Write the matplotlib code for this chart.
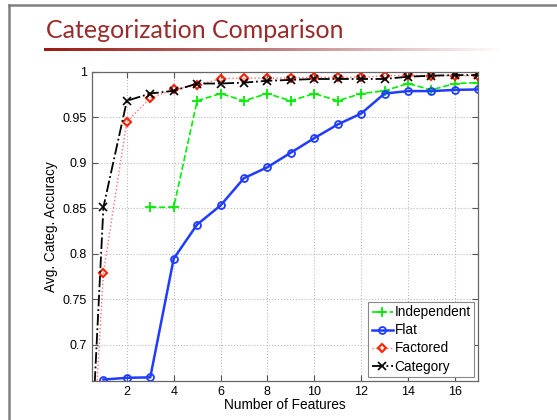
import numpy as np
import matplotlib.pyplot as plt
from matplotlib.colors import LinearSegmentedColormap

# data
n_features = list(range(0, 18))
flat = [np.nan, 0.6616, 0.6635, 0.664, 0.7945, 0.832, 0.853, 0.883, 0.895, 0.911,
        0.927, 0.942, 0.954, 0.976, 0.9787, 0.9787, 0.980, 0.9805]
independent = [np.nan, np.nan, np.nan, 0.851, 0.851, 0.968, 0.976, 0.968, 0.976, 0.968,
               0.976, 0.968, 0.976, 0.979, 0.987, 0.980, 0.987, 0.988]
factored = [0.33, 0.779, 0.945, 0.971, 0.9805, 0.985, 0.9925, 0.9927, 0.993, 0.993,
            0.9938, 0.9938, 0.9938, 0.9956, 0.996, 0.9956, 0.9956, 0.9956]
category = [0.33, 0.851, 0.968, 0.976, 0.979, 0.987, 0.987, 0.988, 0.990, 0.991,
            0.992, 0.992, 0.992, 0.992, 0.9945, 0.9956, 0.9963, 0.9963]

plt.rcParams['font.family'] = ['Liberation Sans', 'DejaVu Sans']

fig = plt.figure(figsize=(5.57, 4.20), dpi=100)

# slide frame (left and top edges)
fig.add_artist(plt.Line2D([9 / 557, 9 / 557], [0, 1 - 5 / 420], color='#808080', lw=1.8))
fig.add_artist(plt.Line2D([9 / 557, 1], [1 - 5 / 420, 1 - 5 / 420], color='#808080', lw=1.8))

# slide title and gradient underline
fig.text(46 / 557, 1 - 38 / 420, 'Categorization Comparison', color='#9b2b2b',
         fontsize=18, family=['Lato', 'DejaVu Sans'])
grad_ax = fig.add_axes([44 / 557, 1 - 51 / 420, 460 / 557, 3 / 420])
cmap = LinearSegmentedColormap.from_list('uline', ['#9a1a10', '#c08080', '#ffffff'])
grad_ax.imshow(np.linspace(0, 1, 256)[None, :], aspect='auto', cmap=cmap)
grad_ax.axis('off')

ax = fig.add_axes([91.7 / 557, 1 - 381 / 420, 386.6 / 557, 309.3 / 420])

ax.plot(n_features, independent, color='#00ee00', ls='--', lw=1.2, marker='+',
        ms=7, mew=1.3, label='Independent')
ax.plot(n_features, flat, color='#1f3cff', ls='-', lw=1.8, marker='o',
        ms=5, mfc='none', mew=1.3, label='Flat')
ax.plot(n_features, factored, color='#ff7070', ls=':', lw=1.0, marker='D',
        ms=4.5, mfc='none', mec='#ff2000', mew=1.5, label='Factored')
ax.plot(n_features, category, color='black', ls='-.', lw=1.3, marker='x',
        ms=5.5, mew=1.2, label='Category')

ax.set_xlim(0.5, 17)
ax.set_ylim(0.66, 1.0)
ax.set_xticks([2, 4, 6, 8, 10, 12, 14, 16])
ax.set_yticks([0.7, 0.75, 0.8, 0.85, 0.9, 0.95, 1])
ax.set_yticklabels(['0.7', '0.75', '0.8', '0.85', '0.9', '0.95', '1'])
ax.grid(True, ls=':', color='#bbbbbb', lw=0.8)
ax.tick_params(direction='in', top=True, right=True, labelsize=9, length=4, color='#555555')
for s in ax.spines.values():
    s.set_color('#666666')
    s.set_linewidth(0.9)

ax.set_xlabel('Number of Features', fontsize=9.8, labelpad=0)
ax.set_ylabel('Avg. Categ. Accuracy', fontsize=9.8, labelpad=3)

leg = ax.legend(loc='lower right', fontsize=9.8, fancybox=False, framealpha=1,
                edgecolor='#888888', handlelength=1.55, handletextpad=0.15,
                borderaxespad=0.3, labelspacing=0.3, borderpad=0.25)
leg.get_frame().set_linewidth(0.8)

fig.savefig('out.png', dpi=100)
